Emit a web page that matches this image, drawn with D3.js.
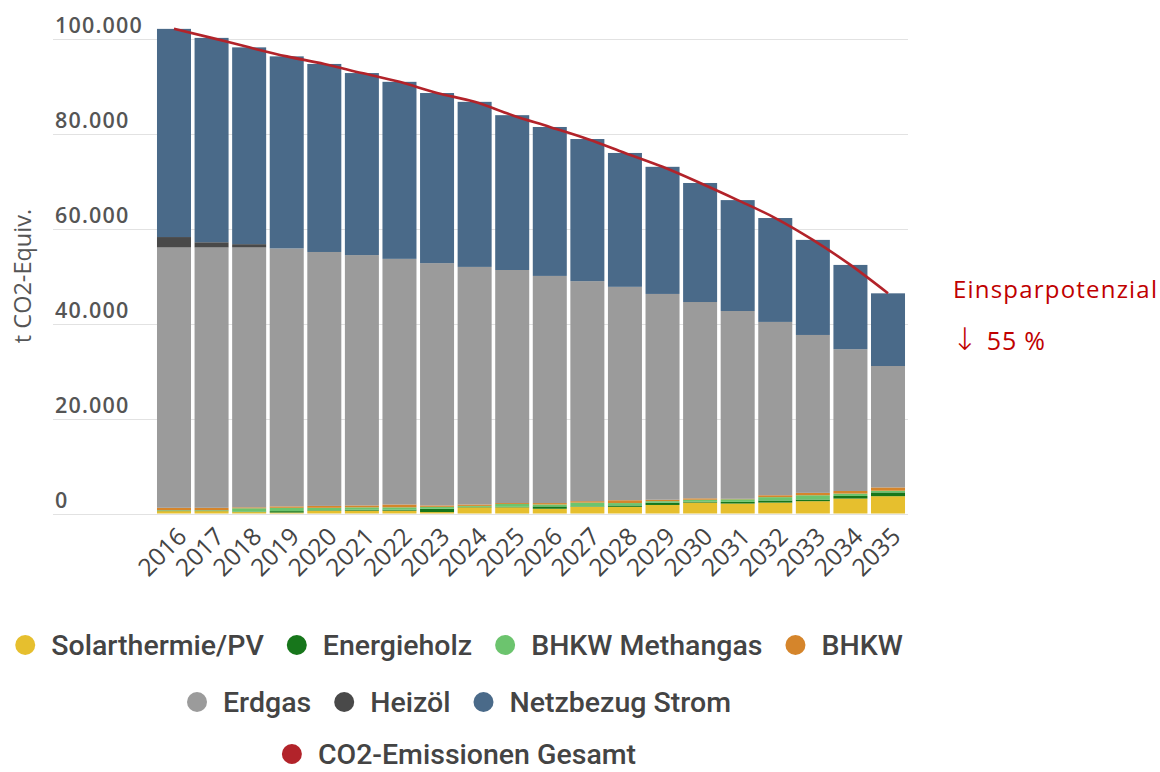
<!DOCTYPE html>
<html>
<head>
<meta charset="utf-8">
<script src="https://cdn.jsdelivr.net/npm/d3@7"></script>
<style>
  html, body { margin: 0; padding: 0; background: #fff; }
  svg { display: block; }
</style>
</head>
<body>
<svg id="chart" width="1160" height="772"></svg>
<script>
// CO2 emissions by source, t CO2-equivalent per year
const years = ["2016","2017","2018","2019","2020","2021","2022","2023","2024","2025",
               "2026","2027","2028","2029","2030","2031","2032","2033","2034","2035"];

const solarPV      = [500, 500, 300, 200, 600, 600, 600, 300, 1300, 1300, 1000, 1400, 1400, 1800, 2300, 2100, 2300, 2600, 3150, 3650];
const energieholz  = [100, 100, 100, 300, 100, 200, 200, 700, 100, 100, 500, 100, 300, 500, 200, 350, 450, 350, 550, 800];
const bhkwMethan   = [100, 100, 700, 700, 500, 500, 500, 400, 200, 600, 400, 800, 500, 300, 400, 550, 700, 900, 500, 350];
const bhkw         = [500, 500, 200, 300, 400, 400, 600, 300, 300, 200, 300, 300, 600, 300, 300, 100, 400, 500, 550, 700];
const erdgas       = [54900, 54900, 54800, 54400, 53550, 52800, 51800, 51100, 50100, 49150,
                      47900, 46400, 45000, 43400, 41400, 39600, 36550, 33300, 29900, 25600];
const heizoel      = [2200, 1100, 700, 0, 0, 0, 0, 0, 0, 0, 0, 0, 0, 0, 0, 0, 0, 0, 0, 0];
const netzbezug    = [43900, 43100, 41500, 40500, 39650, 38380, 37330, 35870, 34810, 32650,
                      31410, 29970, 28230, 26810, 25100, 23390, 21910, 20050, 17770, 15330];

const yTicks = [0, 20000, 40000, 60000, 80000, 100000];

const seriesNames  = ["Solarthermie/PV", "Energieholz", "BHKW Methangas", "BHKW", "Erdgas", "Heizöl", "Netzbezug Strom"];
const seriesValues = [solarPV, energieholz, bhkwMethan, bhkw, erdgas, heizoel, netzbezug];
const seriesColors = ["#e6bf2e", "#17761b", "#6cc46e", "#d5852b", "#9b9b9b", "#494949", "#4a6a89"];
const totalName  = "CO2-Emissionen Gesamt";
const totalColor = "#b2232a";

// table for the stack layout
const rows = years.map((y, i) => {
  const r = { year: y };
  seriesNames.forEach((n, k) => { r[n] = seriesValues[k][i]; });
  return r;
});
const totals = years.map((y, i) => d3.sum(seriesValues, s => s[i]));

const svg = d3.select("#chart");

const x = d3.scaleBand().domain(years).range([155.2, 906.8]).paddingInner(0.095).paddingOuter(0.0475);
const y = d3.scaleLinear().domain([0, 100000]).range([513.5, 39.3]);
const gridLeft = 53, gridRight = 908;

// gridlines
svg.append("g").selectAll("line").data(yTicks).join("line")
  .attr("x1", gridLeft).attr("x2", gridRight)
  .attr("y1", d => Math.round(y(d)) + 0.5).attr("y2", d => Math.round(y(d)) + 0.5)
  .attr("stroke", "#e2e2e2").attr("stroke-width", 1.2);

// y tick labels, sitting above their gridline
const fmt = d3.formatLocale({ decimal: ",", thousands: ".", grouping: [3], currency: ["", "€"] }).format(",d");
svg.append("g").selectAll("text").data(yTicks).join("text")
  .attr("x", 55).attr("y", d => y(d) - 6)
  .attr("font-family", "'Open Sans', sans-serif").attr("font-weight", 600)
  .attr("font-size", 21.5).attr("letter-spacing", 1.2)
  .attr("fill", "#555")
  .text(d => fmt(d));

// y axis title
svg.append("text")
  .attr("transform", "translate(31,276) rotate(-90)")
  .attr("text-anchor", "middle")
  .attr("font-family", "'Open Sans', sans-serif").attr("font-size", 23.5)
  .attr("fill", "#555")
  .text("t CO2-Equiv.");

// stacked bars
const stack = d3.stack().keys(seriesNames);
const layers = stack(rows);
svg.append("g").selectAll("g").data(layers).join("g")
  .attr("fill", (d, i) => seriesColors[i])
  .selectAll("rect").data(d => d).join("rect")
  .attr("x", d => x(d.data.year))
  .attr("width", x.bandwidth())
  .attr("y", d => y(d[1]))
  .attr("height", d => Math.max(0, y(d[0]) - y(d[1])));

// total emissions line
const line = d3.line()
  .x((d, i) => x(years[i]) + x.bandwidth() / 2)
  .y(d => y(d))
  .curve(d3.curveMonotoneX);
svg.append("path").datum(totals)
  .attr("d", line)
  .attr("fill", "none")
  .attr("stroke", totalColor)
  .attr("stroke-width", 2.6);

// x axis labels, rotated
const xAxis = d3.axisBottom(x).tickSize(0).tickPadding(0);
const gx = svg.append("g");
gx.call(xAxis);
gx.select(".domain").remove();
gx.selectAll(".tick").attr("transform", d => `translate(${x(d) + x.bandwidth() / 2 + 8},532)`);
gx.selectAll(".tick text")
  .attr("x", 0).attr("y", 0).attr("dy", "0.35em")
  .attr("transform", "rotate(-45)")
  .attr("text-anchor", "end")
  .attr("font-family", "'Open Sans', sans-serif").attr("font-size", 24.5)
  .attr("fill", "#444");

// savings annotation
const ann = svg.append("g").attr("font-family", "'Open Sans', sans-serif").attr("fill", "#c00000");
ann.append("text").attr("x", 953).attr("y", 298).attr("font-size", 24).attr("letter-spacing", 1.2).text("Einsparpotenzial");
const pct = ann.append("text").attr("x", 952).attr("y", 350).attr("font-size", 25).attr("letter-spacing", 0.8);
pct.append("tspan").attr("font-family", "'DejaVu Sans', sans-serif").attr("font-weight", 300)
  .attr("font-size", 31).text("↓");
pct.append("tspan").attr("dx", 8).text("55 %");

// legend, three centred rows
const legendItems = seriesNames.map((n, i) => ({ name: n, color: seriesColors[i] }))
  .concat([{ name: totalName, color: totalColor }]);
const legendRows = [legendItems.slice(0, 4), legendItems.slice(4, 7), legendItems.slice(7)];
const rowY = [645, 702, 754];
const legendCenter = 459, r = 10, gapText = 16, itemGap = 23;
const lg = svg.append("g");
legendRows.forEach((items, ri) => {
  const gRow = lg.append("g");
  let cx = 0;
  items.forEach(it => {
    const gi = gRow.append("g").attr("transform", `translate(${cx},${rowY[ri]})`);
    gi.append("circle").attr("cx", r).attr("cy", 0).attr("r", r).attr("fill", it.color);
    const t = gi.append("text").attr("x", 2 * r + gapText).attr("y", 0).attr("dy", "0.36em")
      .attr("font-family", "Roboto, sans-serif").attr("font-weight", 500)
      .attr("font-size", 28.5).attr("fill", "#444").text(it.name);
    cx += 2 * r + gapText + t.node().getComputedTextLength() + itemGap;
  });
  const w = cx - itemGap;
  gRow.attr("transform", `translate(${legendCenter - w / 2},0)`);
});
</script>
</body>
</html>
